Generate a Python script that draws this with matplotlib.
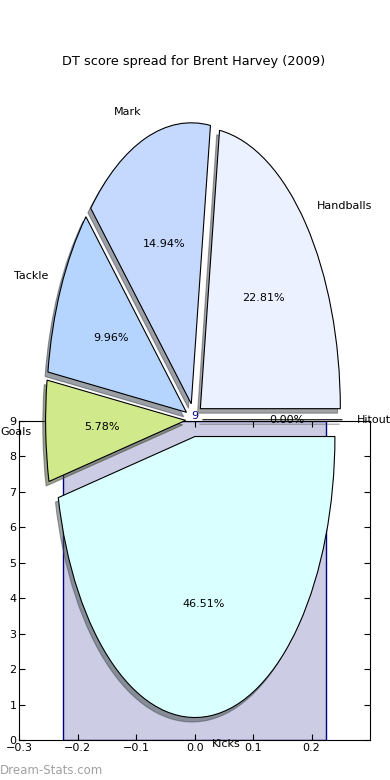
import matplotlib
matplotlib.use("Agg")
import matplotlib.pyplot as plt

# pie data (percent of DT score)
categories = ["Hitout", "Handballs", "Mark", "Tackle", "Goals", "Kicks"]
shares = [0.00, 22.81, 14.94, 9.96, 5.78, 46.51]
wedge_colors = ["#f0f0f0", "#ebf1ff", "#c5d9ff", "#b5d5ff", "#d0e98a", "#d9ffff"]

# bar drawn on the lower axes
bar_x = [0.0]
bar_height = [9]
ytick_vals = [0, 1, 2, 3, 4, 5, 6, 7, 8, 9]
xtick_vals = [-0.3, -0.2, -0.1, 0.0, 0.1, 0.2]

plt.rcParams["font.size"] = 8
plt.rcParams["font.family"] = "DejaVu Sans"

fig = plt.figure(figsize=(3.9, 7.8), dpi=100)

# ---------------------------------------------------------
# lower axes with the single bar
# ---------------------------------------------------------
ax2 = fig.add_axes([19.3 / 390, 40 / 780, 350.7 / 390, 319 / 780])
ax2.bar(bar_x, bar_height, width=0.45, facecolor=(0, 0, 0.5, 0.2),
        edgecolor="navy", linewidth=1)
for x, h in zip(bar_x, bar_height):
    ax2.text(x, h, str(h), color="navy", ha="center", va="bottom", fontsize=8)
ax2.set_xlim(-0.3, 0.3)
ax2.set_ylim(0, 9)
ax2.set_xticks(xtick_vals)
ax2.set_xticklabels([f"{v:.1f}".replace("-", "\u2212") for v in xtick_vals])
ax2.set_yticks(ytick_vals)
ax2.tick_params(direction="in", top=True, right=True, length=4, pad=2)

# ---------------------------------------------------------
# pie on top, stretched (no equal aspect)
# ---------------------------------------------------------
ax = fig.add_axes([19 / 390, 9 / 780, 350 / 390, 702.5 / 780])
ax.pie(shares, labels=categories, colors=wedge_colors, explode=[0.06] * len(shares),
       autopct="%1.2f%%", startangle=0,
       shadow={"ox": -0.0144, "oy": -0.0115},
       wedgeprops={"edgecolor": "black", "linewidth": 0.8},
       textprops={"fontsize": 8})
ax.set_aspect("auto")
ax.set_xlim(-1.25, 1.25)
ax.set_ylim(-1.25, 1.25)
ax.set_title("DT score spread for Brent Harvey (2009)", fontsize=9.3, pad=2.5)

fig.text(0.0, 0.0128, "Dream-Stats.com", color="#a0a0a0", fontsize=8.5,
         ha="left", va="center")

fig.savefig("out.png", dpi=100)
